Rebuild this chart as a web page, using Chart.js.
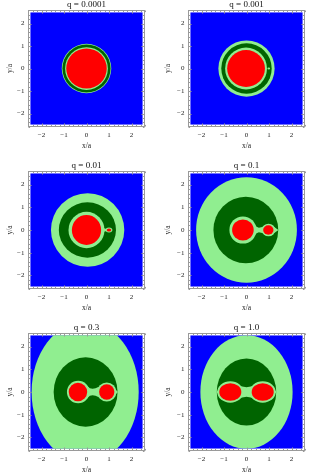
<!DOCTYPE html>
<html><head><meta charset="utf-8">
<script src="https://cdn.jsdelivr.net/npm/chart.js@4"></script>
<style>
html,body{margin:0;padding:0;background:#fff;width:311px;height:474px;overflow:hidden;position:relative}
canvas{position:absolute}
</style></head><body>
<script>
// ---- data ----
const titles = ['q = 0.0001', 'q = 0.001', 'q = 0.01', 'q = 0.1', 'q = 0.3', 'q = 1.0'];
const tickValues = [-2, -1, 0, 1, 2];
const tickLabels = ['\u22122', '\u22121', '0', '1', '2'];
const axisRange = [-2.6, 2.6];
const fieldRange = [-2.5, 2.5];
// ellipse regions: [cx, cy, rx, ry] in units of a
const outerLight = [[0,0,1.10,1.10],[0,0,1.25,1.25],[0.05,0,1.63,1.62],[0,0,2.24,2.32],[-0.06,0,2.38,3.1],[0,0,2.05,2.5]];
const darkBand   = [[0,0,1.07,1.07],[0,0,1.12,1.12],[0.04,0,1.27,1.22],[-0.03,0,1.44,1.47],[-0.04,0,1.42,1.53],[0,0,1.32,1.48]];
const innerLight = [
  [[0,0,0.95,0.95]],
  [[-0.02,0,0.93,0.93],[0.99,0,0.06,0.045]],
  [[0,0,0.8,0.8],[1.0,0,0.15,0.11]],
  [[-0.16,0,0.6,0.6],[0.98,0,0.3,0.28]],
  [[-0.37,0,0.5,0.5],[0.9,0,0.43,0.42]],
  [[-0.72,0,0.58,0.47],[0.72,0,0.58,0.47]]
];
// polygon regions (necks and L-point tips) in units of a
const innerBridges = [
  [],
  [],
  [[[0.7,0.1],[0.85,0.05],[0.95,0.06],[0.95,-0.06],[0.85,-0.05],[0.7,-0.1]]],
  [[[0.3,0.3],[0.45,0.14],[0.55,0.1],[0.7,0.13],[0.8,0.2],[0.8,-0.2],[0.7,-0.13],[0.55,-0.1],[0.45,-0.14],[0.3,-0.3]],
   [[1.2,0.15],[1.42,0],[1.2,-0.15]]],
  [[[0.0,0.3],[0.15,0.17],[0.27,0.14],[0.4,0.17],[0.55,0.23],[0.55,-0.23],[0.4,-0.17],[0.27,-0.14],[0.15,-0.17],[0.0,-0.3]],
   [[1.2,0.2],[1.4,0],[1.2,-0.2]]],
  [[[-0.45,0.36],[-0.25,0.25],[0,0.21],[0.25,0.25],[0.45,0.36],[0.45,-0.36],[0.25,-0.25],[0,-0.21],[-0.25,-0.25],[-0.45,-0.36]],
   [[-1.15,0.18],[-1.34,0],[-1.15,-0.18]],
   [[1.15,0.18],[1.34,0],[1.15,-0.18]]]
];
const redLobes = [
  [[0,0,0.9,0.89]],
  [[-0.02,0,0.84,0.82]],
  [[0,0,0.65,0.66],[1.0,0,0.1,0.07]],
  [[-0.16,0,0.48,0.46],[0.97,0,0.23,0.21]],
  [[-0.38,0,0.41,0.41],[0.9,0,0.34,0.34]],
  [[-0.72,0,0.49,0.39],[0.72,0,0.49,0.39]]
];

// ---- styles / layout ----
const C_BLUE = '#0000ff', C_LIGHT = '#90ee90', C_DARK = '#006400', C_RED = '#ff0000', C_FRAME = '#9a9a9a';
const FONT = "'Liberation Serif', 'DejaVu Serif', serif";
const cols = [{left:0, width:155, yw:28, padR:10, titlePad:5.5},
              {left:155, width:156, yw:33, padR:6, titlePad:8.5}];
const rows = [{top:-1, frameH:117}, {top:160, frameH:118}, {top:322, frameH:118}];
const TITLE_H = 11, XAXIS_H = 30;

function ellipsePath(ctx, xs, ys, e) {
  const cx = xs.getPixelForValue(e[0]), cy = ys.getPixelForValue(e[1]);
  const rx = Math.abs(xs.getPixelForValue(e[0] + e[2]) - cx);
  const ry = Math.abs(ys.getPixelForValue(e[1] + e[3]) - cy);
  ctx.beginPath(); ctx.ellipse(cx, cy, rx, ry, 0, 0, Math.PI * 2); ctx.fill();
}
function polyPath(ctx, xs, ys, pts) {
  ctx.beginPath();
  pts.forEach((p, k) => {
    const px = xs.getPixelForValue(p[0]), py = ys.getPixelForValue(p[1]);
    if (k === 0) ctx.moveTo(px, py); else ctx.lineTo(px, py);
  });
  ctx.closePath(); ctx.fill();
}

const regionPlugin = {
  id: 'regions',
  beforeDatasetsDraw(chart, args, opts) {
    const i = opts.panel;
    const {ctx, chartArea: a, scales: {x, y}} = chart;
    ctx.save();
    const fx0 = x.getPixelForValue(fieldRange[0]), fx1 = x.getPixelForValue(fieldRange[1]);
    const fy0 = y.getPixelForValue(fieldRange[1]), fy1 = y.getPixelForValue(fieldRange[0]);
    ctx.beginPath(); ctx.rect(fx0, fy0, fx1 - fx0, fy1 - fy0); ctx.clip();
    ctx.fillStyle = C_BLUE; ctx.fillRect(fx0, fy0, fx1 - fx0, fy1 - fy0);
    ctx.fillStyle = C_LIGHT; ellipsePath(ctx, x, y, outerLight[i]);
    ctx.fillStyle = C_DARK; ellipsePath(ctx, x, y, darkBand[i]);
    ctx.fillStyle = C_LIGHT;
    innerLight[i].forEach(e => ellipsePath(ctx, x, y, e));
    innerBridges[i].forEach(p => polyPath(ctx, x, y, p));
    ctx.fillStyle = C_RED;
    redLobes[i].forEach(e => ellipsePath(ctx, x, y, e));
    ctx.restore();
  },
  afterDraw(chart) {
    const {ctx, chartArea: a, scales: {x, y}} = chart;
    ctx.save();
    ctx.strokeStyle = C_FRAME; ctx.lineWidth = 1;
    ctx.strokeRect(Math.round(a.left) + 0.5, Math.round(a.top) + 0.5, Math.round(a.width) - 1, Math.round(a.height) - 1);
    const L = Math.round(a.left) + 0.5, R = Math.round(a.left) + Math.round(a.width) - 0.5;
    const T = Math.round(a.top) + 0.5, B = Math.round(a.top) + Math.round(a.height) - 0.5;
    ctx.beginPath();
    for (let k = -13; k <= 13; k++) {
      const v = k / 5;
      const len = (k % 5 === 0) ? 3 : 1.6;
      const px = Math.round(x.getPixelForValue(v)) + 0.5;
      const py = Math.round(y.getPixelForValue(v)) + 0.5;
      ctx.moveTo(px, B); ctx.lineTo(px, B - len);
      ctx.moveTo(px, T); ctx.lineTo(px, T + len);
      ctx.moveTo(L, py); ctx.lineTo(L + len, py);
      ctx.moveTo(R, py); ctx.lineTo(R - len, py);
    }
    ctx.stroke();
    ctx.restore();
  }
};

for (let i = 0; i < 6; i++) {
  const col = cols[i % 2], row = rows[Math.floor(i / 2)];
  const cv = document.createElement('canvas');
  const h = TITLE_H + row.frameH + XAXIS_H;
  cv.width = col.width; cv.height = h;
  cv.style.left = col.left + 'px'; cv.style.top = row.top + 'px';
  cv.style.width = col.width + 'px'; cv.style.height = h + 'px';
  document.body.appendChild(cv);
  new Chart(cv, {
    type: 'scatter',
    data: {datasets: []},
    options: {
      responsive: false, animation: false, devicePixelRatio: 1,
      layout: {padding: {left: 0, right: col.padR, top: 0, bottom: 0}},
      plugins: {
        legend: {display: false}, tooltip: {enabled: false},
        title: {display: true, text: titles[i], fullSize: false, color: '#111',
                font: {family: FONT, size: 9, weight: 'normal'}, padding: {top: 0, bottom: 0.2}},
        regions: {panel: i}
      },
      scales: {
        x: {type: 'linear', min: axisRange[0], max: axisRange[1],
            afterBuildTicks: s => { s.ticks = tickValues.map(v => ({value: v})); },
            afterFit: s => { s.height = XAXIS_H; },
            grid: {display: false, drawTicks: false}, border: {display: false},
            ticks: {padding: 4.3, color: '#222', font: {family: FONT, size: 7},
                    callback: (v, k) => tickLabels[k], maxRotation: 0, autoSkip: false},
            title: {display: true, text: 'x/a', color: '#222', font: {family: FONT, size: 7.5},
                    padding: {top: 0, bottom: 6}}},
        y: {type: 'linear', min: axisRange[0], max: axisRange[1],
            afterBuildTicks: s => { s.ticks = tickValues.map(v => ({value: v})); },
            afterFit: s => { s.width = col.yw; },
            grid: {display: false, drawTicks: false}, border: {display: false},
            ticks: {padding: 3.5, color: '#222', font: {family: FONT, size: 7},
                    callback: (v, k) => tickLabels[k], autoSkip: false},
            title: {display: true, text: 'y/a', color: '#222', font: {family: FONT, size: 7.5},
                    padding: {top: col.titlePad, bottom: 0}}}
      }
    },
    plugins: [regionPlugin]
  });
}
</script>
</body></html>
